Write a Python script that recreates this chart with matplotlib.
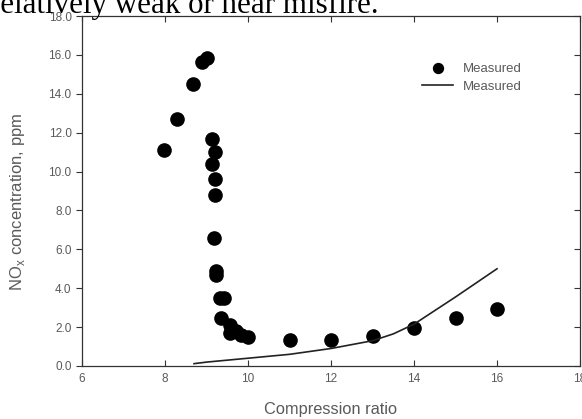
import matplotlib.pyplot as plt

# measured points (compression ratio, NOx ppm)
meas_cr = [7.97, 8.28, 8.68, 8.88, 9.0, 9.13, 9.2, 9.13, 9.2, 9.2,
           9.18, 9.24, 9.24, 9.32, 9.41, 9.36, 9.56, 9.56, 9.72, 9.84, 10.0,
           11.0, 12.0, 13.0, 14.0, 15.0, 16.0]
meas_nox = [11.1, 12.7, 14.5, 15.65, 15.85, 11.7, 11.0, 10.4, 9.6, 8.8,
            6.6, 4.88, 4.68, 3.48, 3.48, 2.45, 2.1, 1.68, 1.82, 1.6, 1.5,
            1.34, 1.34, 1.54, 1.94, 2.48, 2.91]

# curve
line_cr = [8.7, 9.0, 10.0, 11.0, 12.0, 13.0, 13.5, 14.0, 15.0, 16.0]
line_nox = [0.12, 0.2, 0.4, 0.6, 0.9, 1.3, 1.65, 2.15, 3.55, 5.0]

GREY = '#5a5a5a'
plt.rcParams['font.family'] = ['Liberation Sans', 'DejaVu Sans']
plt.rcParams['mathtext.fontset'] = 'custom'
plt.rcParams['mathtext.rm'] = 'Liberation Sans'

fig = plt.figure(figsize=(5.82, 4.19), dpi=100)
ax = fig.add_axes([0.1409, 0.1265, 0.8557, 0.8353])

ax.plot(meas_cr, meas_nox, 'o', color='black', markersize=9.5, label='Measured')
ax.plot(line_cr, line_nox, '-', color='#222222', linewidth=1.2, label='Measured')

ax.set_xlim(6, 18)
ax.set_ylim(0, 18)
ax.set_xticks(range(6, 19, 2))
ax.set_yticks([i * 2.0 for i in range(10)])
ax.set_yticklabels([f'{i * 2.0:.1f}' for i in range(10)])

ax.tick_params(axis='x', direction='in', top=True, length=4, width=0.8,
               labelsize=8.5, labelcolor=GREY, pad=5, color='#333333')
ax.tick_params(axis='y', direction='out', length=4, width=0.8,
               labelsize=8.5, labelcolor=GREY, pad=3.5, color='#333333')
ax.tick_params(axis='y', which='both', right=True)
for t in ax.yaxis.get_ticklines()[1::2]:
    t.set_marker(0)  # inward on the right side
for sp in ax.spines.values():
    sp.set_color('#333333')
    sp.set_linewidth(0.9)

ax.set_xlabel('Compression ratio', fontsize=11.8, color=GREY, labelpad=12)
ax.set_ylabel(r'NO$_\mathregular{x}$ concentration, ppm', fontsize=12,
              color=GREY)
ax.yaxis.set_label_coords(-0.11, 0.47)

ax.legend(loc='upper left', bbox_to_anchor=(0.683, 0.866), frameon=False,
          fontsize=9.5, labelcolor=GREY, handlelength=2.35, handletextpad=0.7,
          labelspacing=0.4, markerscale=0.75, borderpad=0, borderaxespad=0)

# cut-off document text above the figure
fig.text(-0.0177, 0.969, 'relatively weak or near misfire.', fontsize=22.3,
         family='Liberation Serif', color='black', va='baseline')

fig.savefig('out.png', dpi=100)
